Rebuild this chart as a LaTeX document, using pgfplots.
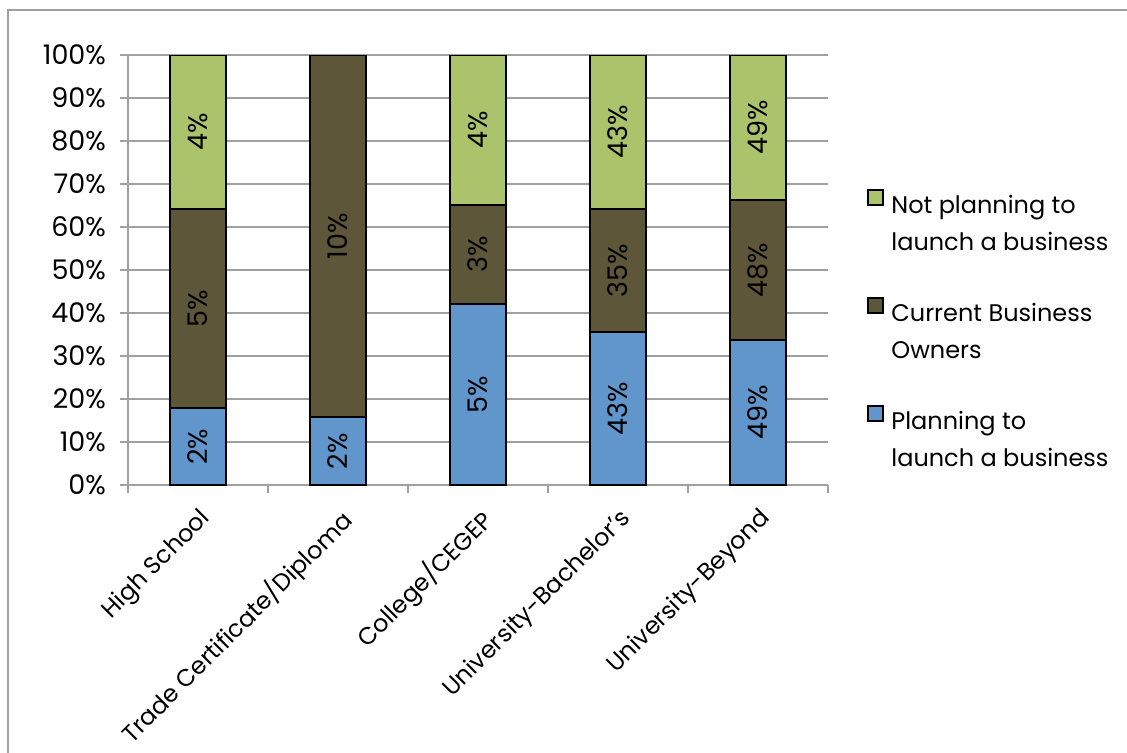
\documentclass[border=0pt]{standalone}
\usepackage{pgfplots}
\pgfplotsset{compat=1.18}
\usepackage{fontspec}
\setmainfont{Poppins}
\definecolor{cblue}{RGB}{96,150,204}
\definecolor{cdark}{RGB}{93,86,56}
\definecolor{cgreen}{RGB}{171,196,107}
\definecolor{cgrid}{RGB}{160,160,160}
\newcommand{\lf}{\fontsize{12}{18.5}\selectfont}
\newcommand{\tf}{\fontsize{13.5}{16}\selectfont}
\newcommand{\lent}[2]{\parbox[b][52.5pt][t]{115pt}{\lf\strut #1\par #2}}
\begin{document}
\begin{tikzpicture}[x=1pt,y=1pt]
\useasboundingbox (-64,-133.5) rectangle (499.5,242.5);
\draw[cgrid, line width=1.2pt] (-60,-150) -- (-60,237.5) -- (520,237.5);
\begin{axis}[
  at={(0,0)}, anchor=south west,
  width=350pt, height=215pt, scale only axis,
  xmin=-0.5, xmax=4.5, ymin=0, ymax=100,
  ybar stacked, bar width=28pt,
  axis x line*=bottom, axis y line*=left,
  axis line style={cgrid, line width=1pt, -},
  ymajorgrids, grid style={cgrid, line width=1pt},
  tick align=outside, major tick length=4pt,
  tick style={cgrid, line width=1pt},
  ytick={0,10,...,100},
  yticklabels={0\%,10\%,20\%,30\%,40\%,50\%,60\%,70\%,80\%,90\%,100\%},
  yticklabel style={font=\tf, xshift=-3.5pt},
  xtick={-0.5,0.5,...,4.5}, xticklabels={},
  extra x ticks={0,1,2,3,4},
  extra x tick labels={High School,Trade Certificate/Diploma,College/CEGEP,University-Bachelor’s,University-Beyond},
  extra x tick style={major tick length=0pt, xticklabel style={rotate=45, anchor=north east, font=\lf, xshift=-4pt, yshift=-4pt}},
  legend style={at={(1.0557,0.693)}, anchor=north west, draw=none, fill=none, inner sep=0pt, column sep=3.5pt, row sep=0pt, cells={anchor=base west}, nodes={inner sep=0pt, font=\lf}},
  legend image code/.code={\draw[#1, line width=1pt] (0pt,43.5pt) rectangle (7.5pt,51pt);},
]
\addplot[fill=cblue, draw=black, line width=1pt, forget plot] coordinates {(0,17.8) (1,15.8) (2,42.2) (3,35.5) (4,33.7)};
\addplot[fill=cdark, draw=black, line width=1pt, forget plot] coordinates {(0,46.5) (1,84.2) (2,23.0) (3,28.6) (4,32.6)};
\addplot[fill=cgreen, draw=black, line width=1pt, forget plot] coordinates {(0,35.7) (1,0) (2,34.8) (3,35.9) (4,33.7)};
\addlegendimage{fill=cgreen, draw=black}
\addlegendentry{\lent{Not planning to}{launch a business}}
\addlegendimage{fill=cdark, draw=black}
\addlegendentry{\lent{Current Business}{Owners}}
\addlegendimage{fill=cblue, draw=black}
\addlegendentry{\lent{Planning to}{launch a business}}
\end{axis}
\begin{axis}[
  at={(0,0)}, anchor=south west,
  width=350pt, height=215pt, scale only axis,
  xmin=-0.5, xmax=4.5, ymin=0, ymax=100,
  hide axis, clip=false,
]
\addplot[only marks, mark=none, nodes near coords, point meta=explicit symbolic,
  every node near coord/.style={rotate=90, anchor=center, font=\tf, text=black}]
  table[meta=l] {
x y l
0 8.9 2\%
0 41.05 5\%
0 82.15 4\%
1 7.9 2\%
1 57.9 10\%
2 21.1 5\%
2 53.7 3\%
2 82.6 4\%
3 17.75 43\%
3 49.8 35\%
3 82.05 43\%
4 16.85 49\%
4 50 48\%
4 83.15 49\%
};
\end{axis}
\end{tikzpicture}
\end{document}
